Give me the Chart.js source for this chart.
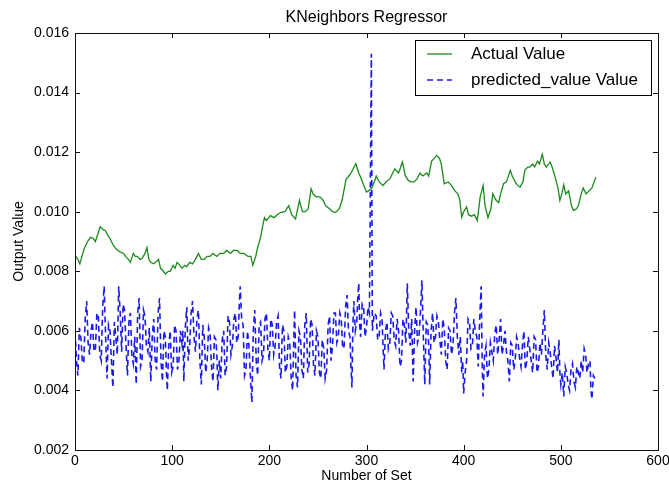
<!DOCTYPE html>
<html lang="en">
<head>
<meta charset="UTF-8">
<title>KNeighbors Regressor</title>
<script src="https://cdn.jsdelivr.net/npm/chart.js"></script>
<style>
  html, body { margin: 0; padding: 0; background: #fff; }
  #wrap { width: 669px; height: 487px; }
</style>
</head>
<body>
<div id="wrap"><canvas id="knnChart" width="669" height="487"></canvas></div>
<script>
// actual output per set number
const actualSet = [0,3,5,8,10,13,16,19,21,24,26,29,31,34,36,39,41,44,47,50,52,55,57,60,62,64,67,69,72,74,76,78,81,83,86,88,91,93,96,98,
  101,103,105,108,110,113,115,118,121,124,127,130,133,136,139,142,146,149,153,156,160,163,167,170,174,178,181,183,186,188,
  191,193,195,197,201,205,208,212,216,220,223,227,231,234,237,240,243,245,248,252,255,258,262,265,268,272,275,279,282,284,
  289,292,294,297,300,302,305,308,310,313,317,320,324,327,329,333,337,340,343,346,349,352,355,358,362,364,367,370,372,375,
  377,380,384,387,391,394,396,398,400,403,405,408,411,414,417,420,422,425,428,430,433,436,438,441,444,448,450,453,455,458,
  461,463,466,468,471,473,476,478,481,483,485,489,491,494,497,499,501,503,505,508,511,513,516,518,521,523,526,529,532,536];
const actualValue = [0.00853,0.0084,0.00825,0.0086,0.0088,0.0090,0.00914,0.0091,0.0090,0.0093,0.0095,0.0094,0.00937,0.0092,0.0091,0.0089,0.0088,0.0087,0.00864,0.0086,
  0.0085,0.0084,0.0083,0.0086,0.0085,0.0085,0.0084,0.00843,0.0086,0.0088,0.0084,0.0083,0.00825,0.0083,0.0084,0.0081,0.0080,0.00791,0.0080,0.0080,
  0.0082,0.0081,0.0083,0.0082,0.0081,0.0082,0.00815,0.0083,0.00825,0.0084,0.0086,0.0084,0.0084,0.0085,0.0085,0.0086,0.0085,0.0086,0.0086,0.0087,
  0.0086,0.0087,0.0087,0.0086,0.0086,0.0085,0.0085,0.0082,0.0085,0.0088,0.00914,0.0095,0.0098,0.0097,0.00987,0.0098,0.0099,0.00998,0.0100,0.0102,
  0.0099,0.00976,0.01038,0.0100,0.0100,0.0101,0.01077,0.0106,0.0105,0.0105,0.0104,0.0102,0.0101,0.0100,0.00997,0.0101,0.0104,0.0111,0.0112,0.0113,
  0.01161,0.0113,0.01116,0.0109,0.01066,0.0107,0.01077,0.0110,0.0112,0.0110,0.01088,0.0110,0.0111,0.0113,0.01144,0.0113,0.01167,0.0112,0.01105,0.0110,
  0.0110,0.0111,0.0113,0.0112,0.0113,0.0112,0.0117,0.0118,0.01189,0.0118,0.0116,0.01094,0.0110,0.0109,0.0107,0.0106,0.0104,0.00982,0.0100,0.01016,
  0.0099,0.00985,0.0099,0.0097,0.0105,0.01088,0.0102,0.0098,0.0101,0.0106,0.0104,0.0103,0.0106,0.01094,0.0110,0.01139,0.0112,0.0110,0.0109,0.01083,
  0.0110,0.0114,0.0115,0.0115,0.0116,0.0115,0.0117,0.0116,0.01193,0.0116,0.0115,0.01167,0.0115,0.01118,0.0108,0.01038,0.0106,0.0109,0.0106,0.0107,
  0.0102,0.01004,0.0101,0.0102,0.0106,0.0108,0.0106,0.0107,0.0108,0.01116];

// KNN predicted output per set number
const predictedSet = [
  0,1.5,3,4.5,6,7.5,9,10.5,12,13.5,
  15,16.5,18,19.5,21,22.5,24,25.5,27,28.5,
  30,31.5,33,34.5,36,37.5,39,40.5,42,43.5,
  45,46.5,48,49.5,51,52.5,54,55.5,57,58.5,
  60,61.5,63,64.5,66,67.5,69,70.5,72,73.5,
  75,76.5,78,79.5,81,82.5,84,85.5,87,88.5,
  90,91.5,93,94,95,96.5,98,99.5,101,102.5,
  104,105.5,107,108.5,110,111,112,113.5,115,116.5,
  118,119.5,121,122.5,124,125.5,127,128.5,130,131.5,
  133,134.5,136,137.5,139,140.5,142,143.5,145,146,
  147,148.5,150,151.5,153,154.5,156,157.5,159,160.5,
  162,163.5,165,166.5,168,169,170,171.5,173,174.5,
  176,177.5,179,180.5,182,183.5,185,186.5,188,189.5,
  191,192.5,194,195.5,197,198.5,200,201.5,203,204.5,
  206,207.5,209,210.5,212,213.5,215,216.5,218,219.5,
  221,222.5,224,225,226,227.5,229,230.5,232,233.5,
  235,236.5,238,239.5,241,242.5,244,245.5,247,248.5,
  250,251.5,253,254.5,256,257.5,259,260.5,262,263.5,
  265,266.5,268,269.5,271,272.5,274,275.5,277,278.5,
  280,281.5,283,284,285,286,287,288.5,290,291,
  292,293,294,295.5,297,298.5,300,301.5,303,305,
  306,308,310,311.5,313,314.5,316,317,318,319.5,
  321,322.5,324,325.5,327,328.5,330,331.5,333,334.5,
  336,337.5,339,340.5,342,343.5,345,346.5,348,349.5,
  351,352.5,354,355.5,357,358.5,360,361.5,363,364,
  365,366.5,368,369.5,371,372.5,374,375.5,377,378.5,
  380,381.5,383,384.5,386,387.5,389,390.5,392,393.5,
  395,396.5,398,399,400,401.5,403,404.5,406,407.5,
  409,410.5,412,413.5,415,416.5,418,419,420,421.5,
  423,424.5,426,427.5,429,430.5,432,433.5,435,436.5,
  438,439.5,441,442.5,444,445.5,447,448.5,450,451.5,
  453,454.5,456,457.5,459,460.5,462,463.5,465,466.5,
  468,469.5,471,472.5,474,475.5,477,478.5,480,481.5,
  483,484.5,486,487.5,489,490.5,492,493.5,495,496.5,
  498,499,500,501.5,503,504.5,506,507.5,509,510.5,
  512,513.5,515,516.5,518,519.5,521,522.5,524,525.5,
  527,528.5,530,531,532,533.5,535];
const predictedValue = [
  0.0060,0.0050,0.0045,0.0061,0.0058,0.0050,0.0049,0.0064,0.0070,0.0056,
  0.0052,0.0060,0.0063,0.0053,0.0054,0.0066,0.0065,0.0052,0.0050,0.0068,
  0.0075,0.0058,0.0044,0.0062,0.0060,0.0050,0.0041,0.0063,0.0058,0.0052,
  0.0075,0.0066,0.0053,0.0069,0.0067,0.0055,0.0045,0.0063,0.0066,0.0052,
  0.0049,0.0058,0.0042,0.0066,0.0071,0.0048,0.0050,0.0067,0.0065,0.0055,
  0.0053,0.0061,0.0043,0.0058,0.0064,0.0050,0.0047,0.0066,0.0071,0.0050,
  0.0043,0.0060,0.0058,0.0047,0.0040,0.0055,0.0060,0.0046,0.0048,0.0062,
  0.0060,0.0047,0.0050,0.0060,0.0056,0.0060,0.0043,0.0061,0.0068,0.0050,
  0.0055,0.0066,0.0070,0.0058,0.0053,0.0064,0.0067,0.0050,0.0042,0.0062,
  0.0058,0.0046,0.0050,0.0061,0.0059,0.0048,0.0043,0.0058,0.0057,0.0052,
  0.0040,0.0050,0.0044,0.0057,0.0060,0.0045,0.0048,0.0065,0.0063,0.0052,
  0.0055,0.0064,0.0066,0.0056,0.0058,0.0068,0.0075,0.0064,0.0062,0.0045,
  0.0047,0.0060,0.0055,0.0045,0.0036,0.0060,0.0067,0.0050,0.0045,0.0062,
  0.0063,0.0050,0.0052,0.0064,0.0066,0.0054,0.0050,0.0064,0.0062,0.0052,
  0.0055,0.0063,0.0065,0.0048,0.0044,0.0062,0.0060,0.0046,0.0048,0.0058,
  0.0056,0.0044,0.0040,0.0055,0.0067,0.0045,0.0041,0.0060,0.0058,0.0047,
  0.0044,0.0062,0.0066,0.0046,0.0049,0.0064,0.0062,0.0048,0.0045,0.0060,
  0.0058,0.0046,0.0044,0.0057,0.0054,0.0044,0.0047,0.0062,0.0065,0.0050,
  0.0055,0.0066,0.0066,0.0056,0.0058,0.0066,0.0064,0.0054,0.0055,0.0068,
  0.0072,0.0060,0.0058,0.0048,0.0041,0.0062,0.0070,0.0060,0.0063,0.0071,
  0.0076,0.0062,0.0058,0.0069,0.0068,0.0058,0.0061,0.0068,0.0066,0.0153,
  0.0060,0.0066,0.0065,0.0057,0.0058,0.0066,0.0064,0.0055,0.0047,0.0060,
  0.0063,0.0054,0.0056,0.0066,0.0065,0.0057,0.0055,0.0064,0.0060,0.0048,
  0.0050,0.0064,0.0062,0.0056,0.0076,0.0060,0.0055,0.0064,0.0043,0.0060,
  0.0068,0.0056,0.0058,0.0066,0.0077,0.0058,0.0042,0.0063,0.0062,0.0055,
  0.0042,0.0060,0.0066,0.0056,0.0058,0.0065,0.0063,0.0057,0.0052,0.0064,
  0.0061,0.0050,0.0047,0.0061,0.0060,0.0052,0.0055,0.0066,0.0071,0.0058,
  0.0052,0.0058,0.0046,0.0050,0.0039,0.0046,0.0050,0.0064,0.0063,0.0054,
  0.0055,0.0064,0.0060,0.0058,0.0048,0.0064,0.0075,0.0050,0.0038,0.0052,
  0.0055,0.0044,0.0047,0.0056,0.0053,0.0050,0.0059,0.0062,0.0052,0.0057,
  0.0064,0.0052,0.0055,0.0060,0.0053,0.0050,0.0043,0.0056,0.0055,0.0047,
  0.0050,0.0058,0.0056,0.0051,0.0048,0.0055,0.0060,0.0047,0.0050,0.0058,
  0.0054,0.0050,0.0046,0.0058,0.0057,0.0046,0.0048,0.0056,0.0052,0.0060,
  0.0067,0.0052,0.0047,0.0056,0.0053,0.0048,0.0044,0.0055,0.0051,0.0046,
  0.0057,0.0046,0.0042,0.0046,0.0038,0.0048,0.0046,0.0042,0.0040,0.0047,
  0.0049,0.0043,0.0041,0.0048,0.0046,0.0044,0.0050,0.0046,0.0054,0.0052,
  0.0046,0.0049,0.0050,0.0040,0.0037,0.0045,0.0044];

const xTicks = [0, 100, 200, 300, 400, 500, 600];
const yTicks = [0.002, 0.004, 0.006, 0.008, 0.010, 0.012, 0.014, 0.016];
const chartTitle = 'KNeighbors Regressor';

const FONT = '"Liberation Sans", Arial, sans-serif';

function toPoints(xs, ys) {
  return xs.map((x, i) => ({ x: x, y: ys[i] }));
}

// box around the axes, inward tick marks on all four sides, title over the plot, legend in the upper right
const axesFrame = {
  id: 'axesFrame',
  afterDraw(chart) {
    const ctx = chart.ctx;
    const a = chart.chartArea;
    const xs = chart.scales.x, ys = chart.scales.y;
    ctx.save();
    ctx.strokeStyle = '#111';
    ctx.lineWidth = 1;
    ctx.beginPath();
    xTicks.forEach(v => {
      const px = Math.round(xs.getPixelForValue(v)) + 0.5;
      ctx.moveTo(px, a.bottom); ctx.lineTo(px, a.bottom - 5);
      ctx.moveTo(px, a.top); ctx.lineTo(px, a.top + 5);
    });
    yTicks.forEach(v => {
      const py = Math.round(ys.getPixelForValue(v)) + 0.5;
      ctx.moveTo(a.left, py); ctx.lineTo(a.left + 5, py);
      ctx.moveTo(a.right, py); ctx.lineTo(a.right - 5, py);
    });
    ctx.stroke();
    ctx.strokeRect(Math.round(a.left) + 0.5, Math.round(a.top) + 0.5,
      Math.round(a.right - a.left), Math.round(a.bottom - a.top));

    ctx.fillStyle = '#000';
    ctx.font = '16px ' + FONT;
    ctx.textAlign = 'center';
    ctx.textBaseline = 'middle';
    ctx.fillText(chartTitle, (a.left + a.right) / 2, 18);

    // legend
    const bx = 415.5, by = 40.5, bw = 236, bh = 55;
    ctx.fillStyle = '#fff';
    ctx.fillRect(bx, by, bw, bh);
    ctx.strokeStyle = '#000';
    ctx.strokeRect(bx, by, bw, bh);
    ctx.font = '17px ' + FONT;
    ctx.textAlign = 'left';
    chart.data.datasets.forEach((ds, i) => {
      const rowY = 54 + i * 26;
      ctx.strokeStyle = ds.borderColor;
      ctx.lineWidth = ds.borderWidth;
      ctx.setLineDash(ds.borderDash || []);
      ctx.beginPath();
      ctx.moveTo(427, rowY); ctx.lineTo(452, rowY);
      ctx.stroke();
      ctx.setLineDash([]);
      ctx.fillStyle = '#000';
      ctx.fillText(ds.label, 471, rowY);
    });
    ctx.restore();
  }
};

new Chart(document.getElementById('knnChart'), {
  type: 'line',
  data: {
    datasets: [
      {
        label: 'Actual Value',
        data: toPoints(actualSet, actualValue),
        borderColor: '#1a8a1a',
        borderWidth: 1.3,
        pointRadius: 0,
        tension: 0,
        fill: false
      },
      {
        label: 'predicted_value Value',
        data: toPoints(predictedSet, predictedValue),
        borderColor: '#1a1aee',
        borderWidth: 1.6,
        borderDash: [6, 4],
        pointRadius: 0,
        tension: 0,
        fill: false
      }
    ]
  },
  options: {
    responsive: false,
    animation: false,
    layout: { padding: { top: 33, right: 11, bottom: 0, left: 0 } },
    plugins: {
      legend: { display: false },
      tooltip: { enabled: false },
      title: { display: false }
    },
    scales: {
      x: {
        type: 'linear',
        min: 0,
        max: 600,
        afterFit: s => { s.height = 37; s.paddingLeft = 0; s.paddingRight = 0; },
        afterBuildTicks: s => { s.ticks = xTicks.map(v => ({ value: v })); },
        ticks: { color: '#000', font: { family: FONT, size: 14 }, padding: 3, maxRotation: 0 },
        grid: { display: false, drawTicks: false },
        border: { display: false },
        title: {
          display: true,
          text: 'Number of Set',
          color: '#000',
          font: { family: FONT, size: 14 },
          padding: { top: 0, bottom: 2 }
        }
      },
      y: {
        type: 'linear',
        min: 0.002,
        max: 0.016,
        afterFit: s => { s.width = 75; },
        afterBuildTicks: s => { s.ticks = yTicks.map(v => ({ value: v })); },
        ticks: {
          color: '#000',
          font: { family: FONT, size: 14 },
          padding: 6,
          callback: v => v.toFixed(3)
        },
        grid: { display: false, drawTicks: false },
        border: { display: false },
        title: {
          display: true,
          text: 'Output Value',
          color: '#000',
          font: { family: FONT, size: 14 },
          padding: { top: 11, bottom: 0 }
        }
      }
    }
  },
  plugins: [axesFrame]
});
</script>
</body>
</html>
